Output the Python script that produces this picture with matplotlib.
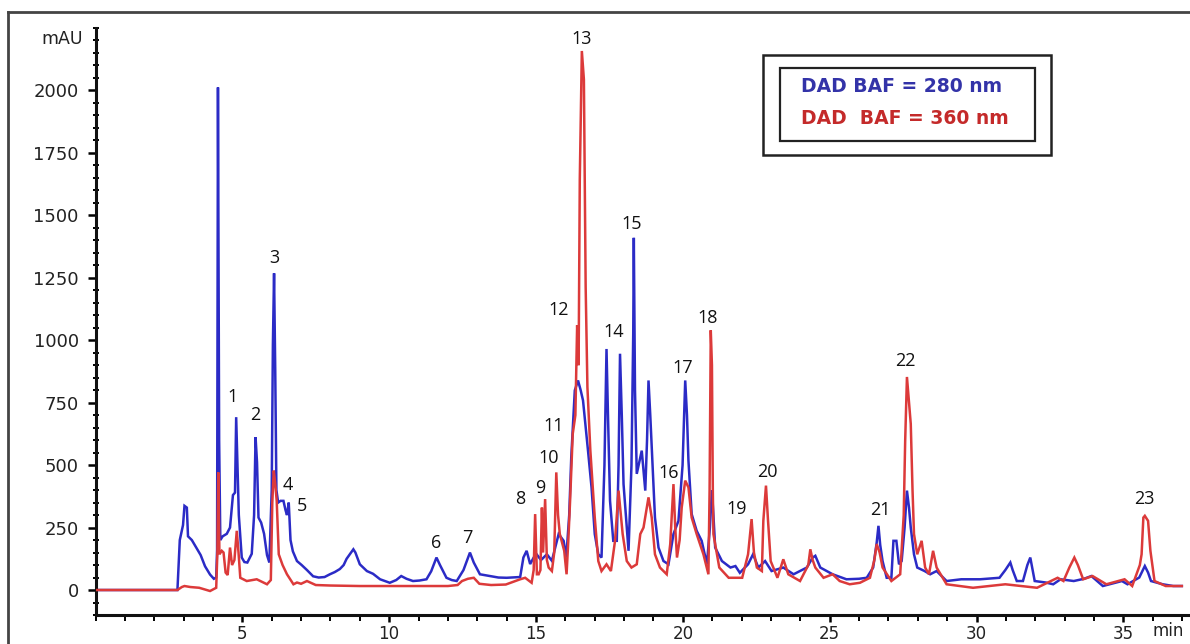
# plot.py
# HPLC-DAD chromatogram, BAF extract at 280 nm and 360 nm

import matplotlib
matplotlib.use("Agg")
from matplotlib import pyplot as plt
from matplotlib.lines import Line2D
from matplotlib.patches import Rectangle
from matplotlib.ticker import MultipleLocator

# retention time (min) and absorbance (mAU), 280 nm
time_280 = [0.0, 2.79, 2.87, 2.98, 3.03, 3.11, 3.15, 3.28, 3.43, 3.58, 3.73, 3.9, 4.03,
            4.11, 4.14, 4.17, 4.21, 4.25, 4.33, 4.47, 4.58, 4.68, 4.75, 4.79, 4.83, 4.88,
            4.98, 5.07, 5.17, 5.32, 5.4, 5.45, 5.5, 5.55, 5.64, 5.74, 5.84, 5.92, 6.0,
            6.04, 6.08, 6.12, 6.16, 6.22, 6.3, 6.4, 6.47, 6.52, 6.58, 6.64, 6.72, 6.86,
            7.02, 7.2, 7.41, 7.6, 7.8, 7.98, 8.15, 8.32, 8.45, 8.55, 8.7, 8.78, 8.85, 9.0,
            9.24, 9.45, 9.69, 10.02, 10.24, 10.41, 10.59, 10.81, 11.03, 11.27, 11.43,
            11.61, 11.73, 11.95, 12.13, 12.3, 12.53, 12.75, 12.88, 13.09, 13.43, 13.72,
            14.0, 14.46, 14.57, 14.68, 14.8, 14.92, 15.02, 15.17, 15.37, 15.54, 15.77,
            15.94, 16.03, 16.13, 16.2, 16.32, 16.43, 16.52, 16.6, 16.77, 16.89, 17.0,
            17.12, 17.23, 17.33, 17.4, 17.45, 17.52, 17.63, 17.75, 17.81, 17.86, 17.92,
            17.98, 18.15, 18.25, 18.31, 18.33, 18.37, 18.43, 18.6, 18.72, 18.78, 18.83,
            18.89, 18.94, 19.05, 19.17, 19.34, 19.51, 19.68, 19.85, 19.99, 20.08, 20.14,
            20.19, 20.3, 20.47, 20.64, 20.82, 20.92, 20.99, 21.04, 21.1, 21.33, 21.62,
            21.79, 21.94, 22.22, 22.39, 22.57, 22.8, 23.02, 23.42, 23.77, 24.22, 24.42,
            24.51, 24.68, 25.1, 25.57, 26.0, 26.26, 26.48, 26.6, 26.66, 26.72, 26.8,
            26.94, 27.1, 27.17, 27.27, 27.36, 27.45, 27.55, 27.63, 27.7, 27.76, 27.87,
            27.98, 28.23, 28.42, 28.64, 28.98, 29.48, 30.12, 30.78, 30.98, 31.15, 31.23,
            31.37, 31.58, 31.73, 31.83, 31.91, 31.98, 32.36, 32.61, 32.86, 33.31, 33.66,
            33.91, 34.3, 34.95, 35.14, 35.54, 35.73, 35.84, 35.94, 36.34, 36.7, 36.99]
mau_280 = [0, 0, 200, 260, 337, 330, 215, 200, 170, 140, 95, 62, 45,
           50, 160, 2012, 600, 200, 215, 225, 250, 380, 390, 692, 518, 300,
           130, 112, 110, 145, 300, 612, 511, 290, 270, 225, 140, 110, 400,
           980, 1268, 880, 400, 350, 357, 357, 320, 300, 350, 200, 155, 116,
           100, 80, 55, 50, 52, 63, 72, 84, 100, 125, 150, 163, 150, 103,
           76, 65, 43, 29, 40, 56, 45, 36, 38, 43, 75,
           130, 100, 49, 40, 36, 80, 150, 110, 63, 56, 50,
           49, 52, 130, 157, 104, 130, 143, 120, 143, 117, 224,
           197, 130, 300, 532, 799, 839, 800, 759, 558, 411, 224,
           143, 130, 500, 965, 700, 357, 197, 197, 500, 946, 700,
           424, 157, 500, 1028, 1410, 800, 465, 558, 398, 600, 839,
           700, 571, 290, 170, 116, 103, 224, 277, 500, 839, 700,
           518, 304, 237, 197, 103, 250, 400, 300, 170, 116, 90,
           96, 69, 103, 143, 90, 116, 76, 90, 63, 90, 130,
           137, 90, 63, 43, 45, 49, 90, 190, 257, 180, 116,
           49, 49, 197, 197, 103, 116, 250, 398, 330, 250, 143,
           90, 76, 63, 76, 36, 43, 43, 49, 80, 110, 80,
           36, 36, 100, 130, 80, 36, 30, 23, 43, 36, 45,
           56, 16, 36, 23, 50, 96, 70, 36, 23, 16, 16]

# same extract at 360 nm
time_360 = [0.0, 2.79, 2.94, 3.03, 3.23, 3.53, 3.9, 4.11, 4.15, 4.18, 4.22, 4.3, 4.36,
            4.43, 4.5, 4.58, 4.65, 4.73, 4.81, 4.87, 4.93, 5.15, 5.49, 5.84, 5.97, 6.02,
            6.07, 6.12, 6.17, 6.24, 6.37, 6.52, 6.74, 6.86, 7.0, 7.2, 7.5, 8.0, 9.0,
            10.0, 11.0, 12.0, 12.33, 12.48, 12.68, 12.88, 13.07, 13.47, 13.97, 14.46,
            14.63, 14.85, 14.92, 14.97, 15.03, 15.09, 15.15, 15.2, 15.24, 15.31, 15.37,
            15.43, 15.54, 15.62, 15.69, 15.75, 15.81, 15.96, 16.04, 16.1, 16.16, 16.25,
            16.34, 16.4, 16.45, 16.49, 16.56, 16.63, 16.69, 16.75, 16.85, 17.0, 17.12,
            17.23, 17.4, 17.55, 17.69, 17.81, 17.95, 18.09, 18.25, 18.43, 18.55, 18.66,
            18.83, 18.94, 19.05, 19.22, 19.45, 19.57, 19.68, 19.74, 19.8, 19.89, 19.96,
            20.08, 20.19, 20.3, 20.47, 20.7, 20.87, 20.91, 20.95, 20.99, 21.02, 21.04,
            21.24, 21.56, 22.02, 22.22, 22.34, 22.42, 22.52, 22.69, 22.74, 22.83, 22.9,
            22.99, 23.22, 23.42, 23.59, 23.99, 24.27, 24.34, 24.42, 24.51, 24.79, 25.1,
            25.34, 25.68, 26.03, 26.37, 26.52, 26.6, 26.7, 26.8, 27.1, 27.4, 27.52,
            27.57, 27.63, 27.7, 27.76, 27.82, 27.87, 27.98, 28.13, 28.25, 28.38, 28.52,
            28.64, 28.98, 29.88, 30.98, 32.06, 32.76, 32.96, 33.16, 33.33, 33.45, 33.63,
            33.95, 34.42, 35.04, 35.3, 35.56, 35.62, 35.68, 35.73, 35.84, 35.92, 36.06,
            36.44, 36.99]
mau_360 = [0, 0, 12, 16, 12, 9, -4, 9, 150, 471, 143, 157, 150,
           70, 60, 170, 100, 120, 237, 150, 49, 36, 43, 23, 40, 350,
           478, 425, 357, 143, 100, 63, 23, 30, 25, 36, 20, 18, 16,
           16, 16, 16, 20, 36, 45, 49, 25, 20, 22, 43,
           49, 29, 80, 304, 63, 63, 80, 330, 150, 364, 120,
           90, 76, 150, 471, 300, 224, 157, 63, 200, 357, 625,
           700, 1060, 900, 1643, 2158, 2044, 1214, 812, 558, 290, 116,
           76, 103, 76, 197, 398, 224, 116, 90, 103, 224, 250,
           371, 290, 143, 90, 63, 184, 424, 250, 130, 200, 330,
           438, 411, 290, 224, 143, 63, 400, 1040, 900, 400, 224,
           90, 49, 49, 143, 284, 150, 90, 76, 277, 418, 277,
           116, 49, 123, 63, 36, 100, 163, 120, 90, 49, 63,
           36, 23, 29, 49, 120, 184, 150, 90, 36, 63, 300,
           598, 853, 750, 665, 400, 224, 143, 197, 90, 63, 157,
           90, 23, 9, 23, 9, 49, 36, 90, 130, 100, 43,
           56, 23, 43, 16, 100, 143, 290, 297, 277, 157, 36,
           16, 16]

# peak numbers and where their labels sit
peak_labels = [str(i) for i in range(1, 24)]
label_time = [4.68, 5.43, 6.08, 6.55, 7.03, 11.59, 12.65, 14.46, 15.16, 15.44, 15.61,
              15.78, 16.56, 17.65, 18.27, 19.53, 20.0, 20.85, 21.84, 22.87, 26.74,
              27.56, 35.73]
label_mau = [771, 699, 1329, 422, 337, 189, 209, 365, 410, 530, 655, 1120, 2205,
             1032, 1466, 470, 888, 1088, 325, 474, 321, 916, 365]

legend_texts = ["DAD BAF = 280 nm", "DAD  BAF = 360 nm"]

W, H = 1190, 644
fig = plt.figure(figsize=(W / 100, H / 100), dpi=100)
ax = fig.add_axes([95.5 / W, 29 / H, (1188 - 95.5) / W, 587 / H])

blue = "#2b2bc6"
red = "#dc3a3a"
ax.plot(time_280, mau_280, color=blue, lw=1.8, solid_joinstyle="miter", zorder=2)
ax.plot(time_360, mau_360, color=red, lw=1.8, solid_joinstyle="miter", zorder=3)

ax.set_xlim(0, 37.2)
ax.set_ylim(-100, 2250)

# axis styling: only left and bottom spines
for side in ["top", "right"]:
    ax.spines[side].set_visible(False)
for side in ["left", "bottom"]:
    ax.spines[side].set_linewidth(2.2)
    ax.spines[side].set_color("#111111")

ax.yaxis.set_minor_locator(MultipleLocator(50))
ax.set_yticks([0, 250, 500, 750, 1000, 1250, 1500, 1750, 2000])
ax.xaxis.set_minor_locator(MultipleLocator(1))
ax.set_xticks([5, 10, 15, 20, 25, 30, 35])

ax.tick_params(axis="y", which="major", direction="out", length=6, width=1.8,
               pad=6, labelsize=13, labelcolor="#222222")
ax.tick_params(axis="y", which="minor", direction="inout", length=4, width=1.4)
ax.tick_params(axis="x", which="major", direction="out", length=5, width=1.8,
               pad=2, labelsize=12, labelcolor="#222222")
ax.tick_params(axis="x", which="minor", direction="out", length=4, width=1.4)

# unit labels
ax.text(-0.012, 2205, "mAU", transform=ax.get_yaxis_transform(), ha="right",
        va="center", fontsize=12.5, color="#222222")
fig.text(1168 / W, 1 - 631 / H, "min", ha="center", va="center", fontsize=12,
         color="#222222")

# peak numbers
for lab, t, v in zip(peak_labels, label_time, label_mau):
    ax.text(t, v, lab, ha="center", va="center", fontsize=13, family="Open Sans",
            color="#111111", zorder=5)

# outer frame (only top and left edges visible in the crop)
fig.add_artist(Line2D([8 / W, 8 / W], [0, 1 - 12 / H], color="#444444", lw=2))
fig.add_artist(Line2D([8 / W, 1], [1 - 12 / H, 1 - 12 / H], color="#444444", lw=2))

# double-bordered legend box
fig.add_artist(Rectangle((763 / W, 1 - 155 / H), (1051 - 763) / W, 100 / H,
                         fill=False, ec="#222222", lw=1.8, transform=fig.transFigure))
fig.add_artist(Rectangle((780 / W, 1 - 141 / H), (1035 - 780) / W, 73 / H,
                         fill=False, ec="#222222", lw=1.6, transform=fig.transFigure))
fig.text(801 / W, 1 - 87 / H, legend_texts[0], ha="left", va="center", fontsize=13.5,
         fontweight="bold", color="#3333a8")
fig.text(801 / W, 1 - 119 / H, legend_texts[1], ha="left", va="center", fontsize=13.5,
         fontweight="bold", color="#c42a2a")

fig.savefig("out.png", dpi=100)
